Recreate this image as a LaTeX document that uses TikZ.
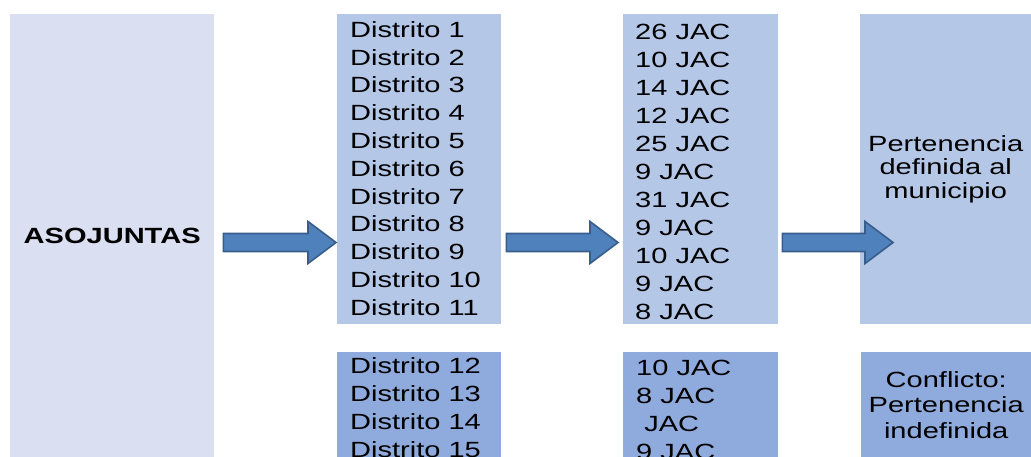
\documentclass[tikz,border=0pt]{standalone}
\usepackage{fontspec}
\setmainfont{Liberation Sans}[FakeStretch=1.32]
\usetikzlibrary{calc}
\definecolor{boxlav}{HTML}{DAE0F2}
\definecolor{boxblue}{HTML}{B4C7E7}
\definecolor{boxdark}{HTML}{8FAADC}
\definecolor{arrfill}{HTML}{4F81BD}
\definecolor{arrline}{HTML}{385D8A}
\tikzset{
  panel/.style={inner sep=0pt,anchor=north west,align=center,font=\fontsize{22}{24}\selectfont},
  item/.style={inner sep=0pt,anchor=base west,font=\fontsize{22}{28}\selectfont},
  blockarrow/.style={fill=arrfill,draw=arrline,line width=1.6pt,line join=miter}
}
% block arrow between two points, drawn at the height of the first
\newcommand\bigarrow[2]{%
  \draw[blockarrow] let \p1=(#1), \p2=(#2) in
    (\x1,\y1+9pt) -- (\x2-28pt,\y1+9pt) -- (\x2-28pt,\y1+21pt) -- (\x2,\y1)
    -- (\x2-28pt,\y1-21pt) -- (\x2-28pt,\y1-9pt) -- (\x1,\y1-9pt) -- cycle;}
\begin{document}
\begin{tikzpicture}[x=1pt,y=-1pt]
\useasboundingbox (0,0) rectangle (1031,457);
% Boxes
\node[panel,fill=boxlav,minimum width=204pt,minimum height=443pt,font=\fontsize{22}{24}\selectfont\bfseries] (asoc) at (10,14) {ASOJUNTAS};
\node[panel,fill=boxblue,minimum width=164pt,minimum height=310pt] (dist1) at (337,14) {};
\node[panel,fill=boxblue,minimum width=155pt,minimum height=310pt] (jac1) at (623,14) {};
\node[panel,fill=boxblue,minimum width=171pt,minimum height=310pt,font=\fontsize{22}{23.7}\selectfont] (pert) at (860,14) {Pertenencia\\definida al\\municipio};
\node[panel,fill=boxdark,minimum width=164pt,minimum height=105pt] (dist2) at (337,352) {};
\node[panel,fill=boxdark,minimum width=155pt,minimum height=105pt] (jac2) at (623,352) {};
\node[panel,fill=boxdark,minimum width=170pt,minimum height=105pt,font=\fontsize{22}{25.5}\selectfont] (conf) at (861,352) {Conflicto:\\Pertenencia\\indefinida};
% Lists
\foreach \i in {1,...,11}
  \node[item] (d\i) at (350,{37.3+(\i-1)*27.8}) {Distrito \i};
\foreach \n [count=\i] in {26,10,14,12,25,9,31,9,10,9,8}
  \node[item] (j\i) at (635,{39.3+(\i-1)*28}) {\n\ JAC};
\foreach \i in {12,...,15}
  \node[item] (d\i) at (350,{373+(\i-12)*28}) {Distrito \i};
\foreach \n [count=\i from 12] in {10,8,{},9}
  \node[item] (j\i) at (636,{375+(\i-12)*28}) {\n\ JAC};
% Arrows
\coordinate (arr) at (0,242.5);
\bigarrow{$(asoc.east|-arr)+(9,0)$}{$(dist1.west|-arr)+(-1,0)$}
\bigarrow{$(dist1.east|-arr)+(5,0)$}{$(jac1.west|-arr)+(-5,0)$}
\bigarrow{$(jac1.east|-arr)+(4,0)$}{$(pert.west|-arr)+(33,0)$}
\end{tikzpicture}
\end{document}
